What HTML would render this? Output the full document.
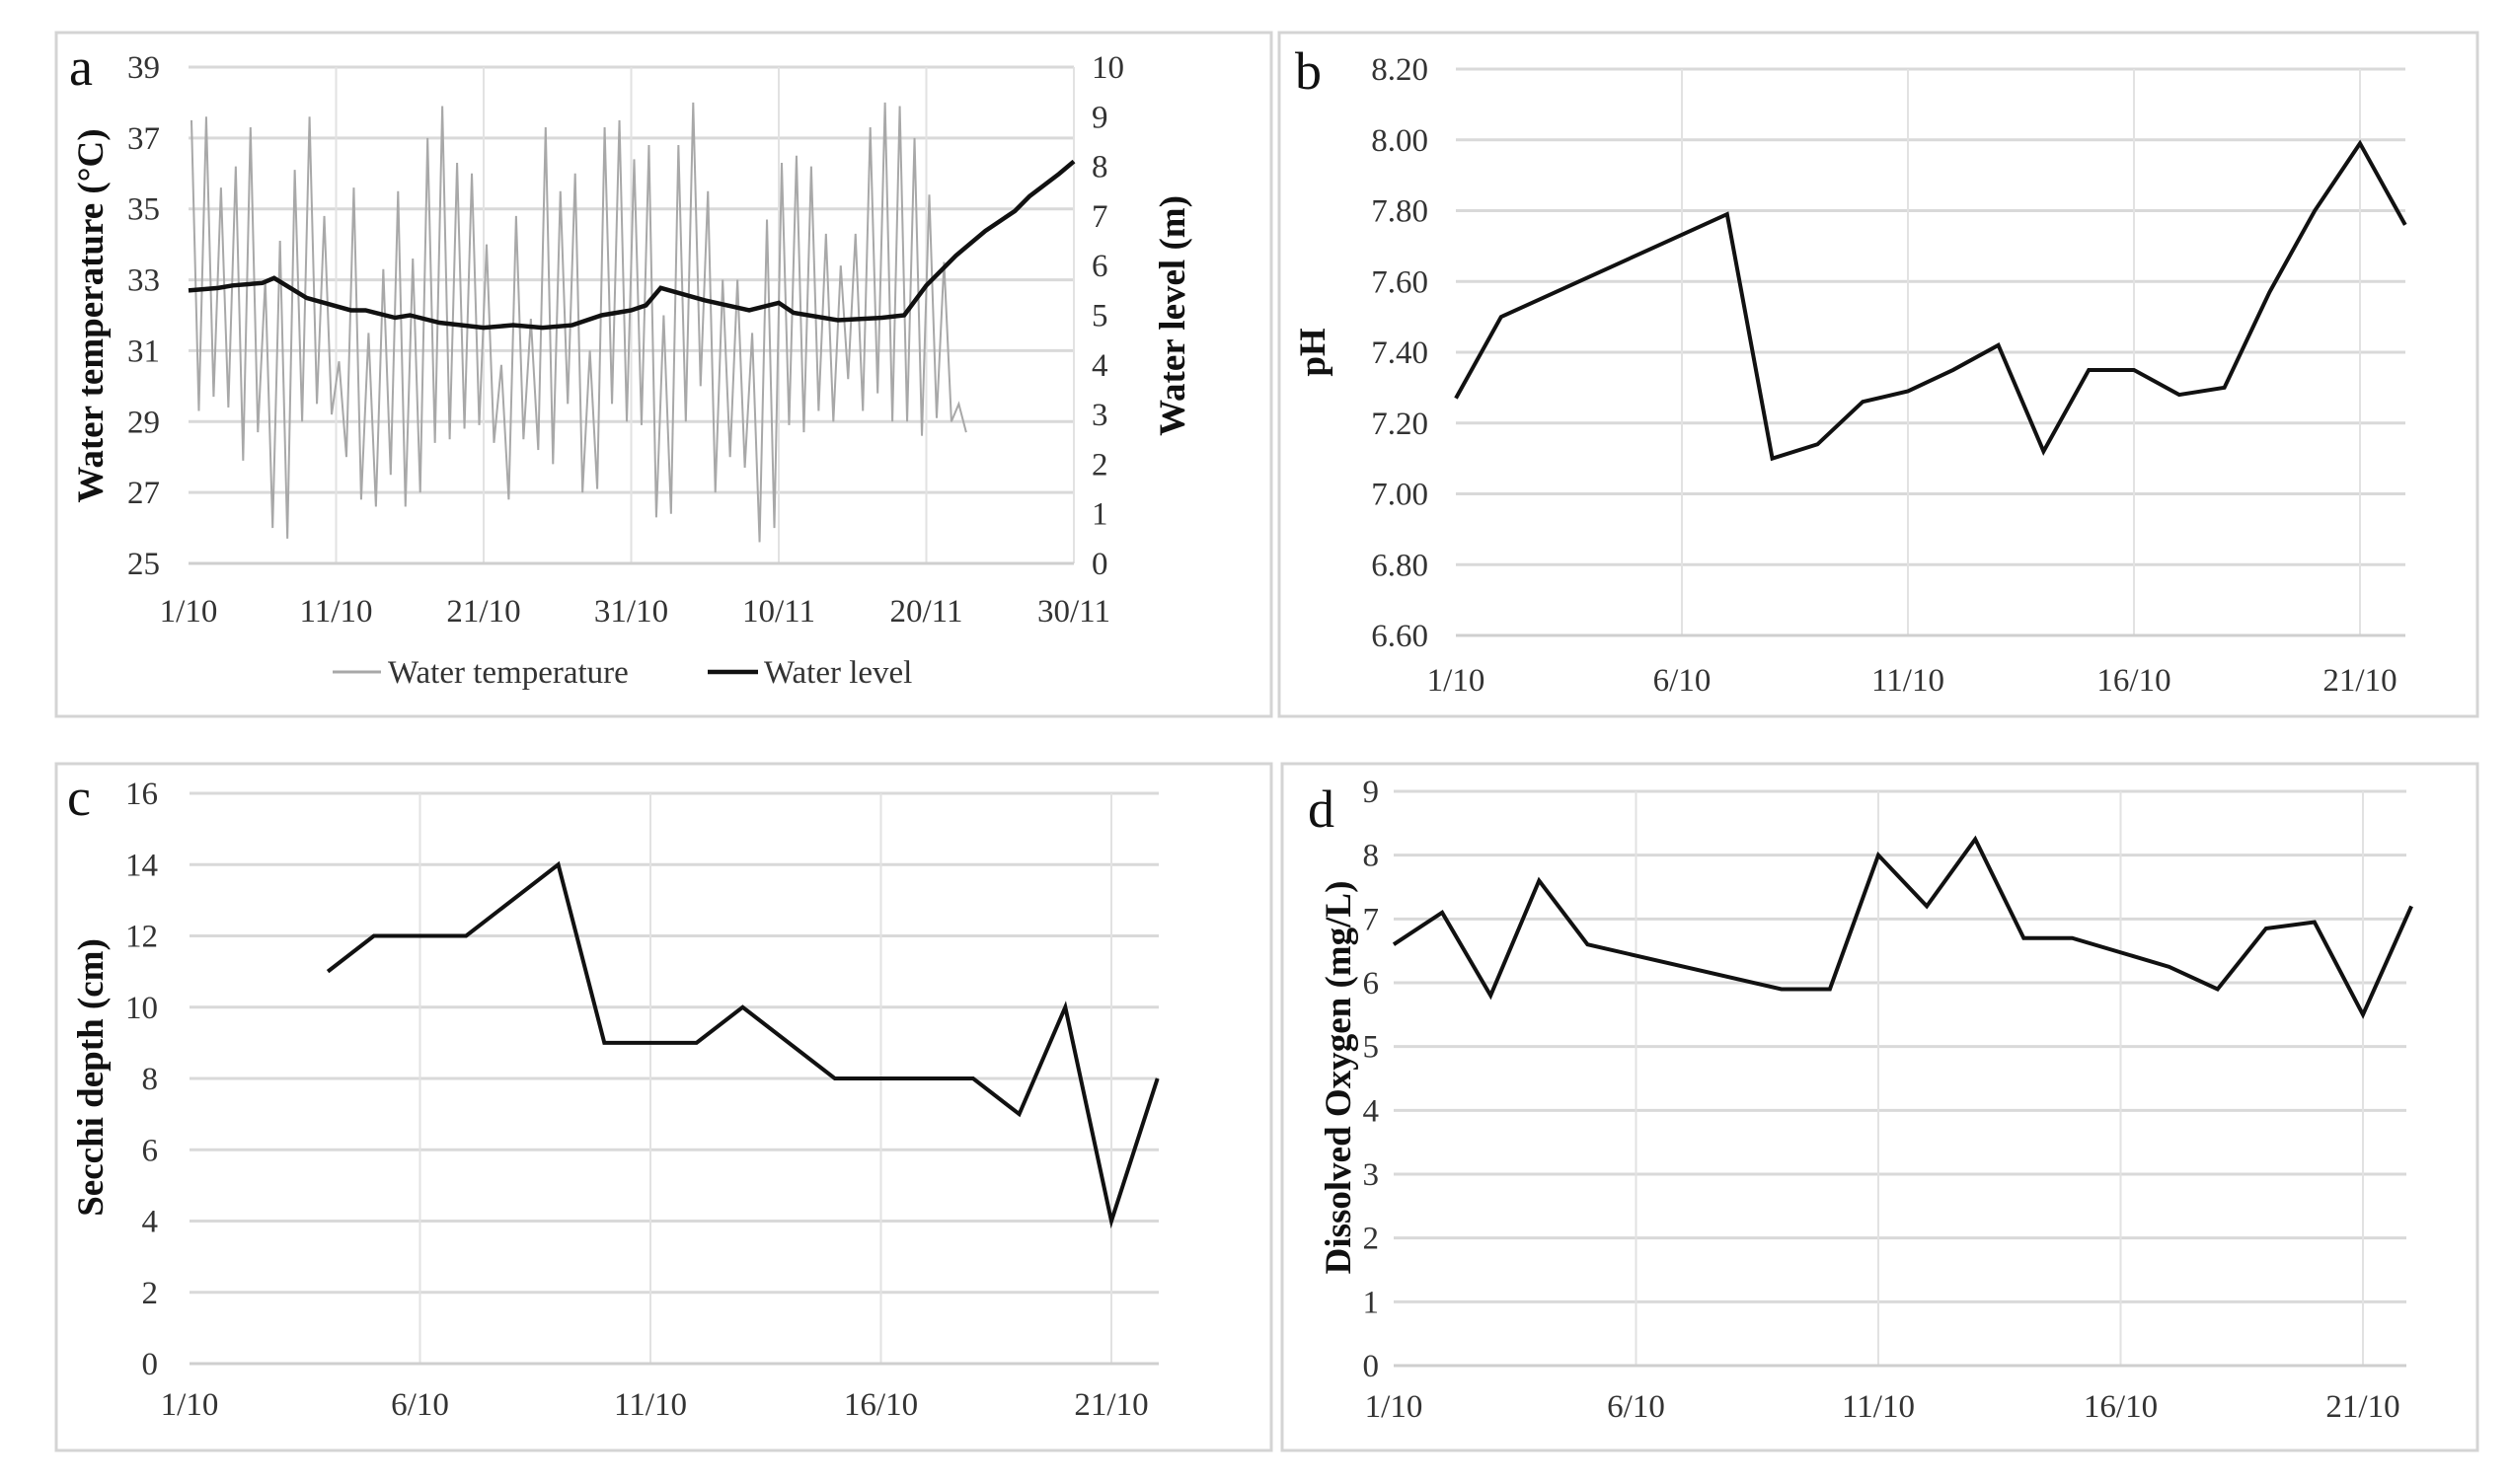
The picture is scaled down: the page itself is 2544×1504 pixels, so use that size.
<!DOCTYPE html>
<html><head><meta charset="utf-8"><style>
html,body{margin:0;padding:0;background:#fff;}
svg{display:block;font-family:"Liberation Serif",serif;}
</style></head><body>
<svg id="fig" width="2544" height="1504" viewBox="0 0 2544 1504" xmlns="http://www.w3.org/2000/svg">
<rect x="0" y="0" width="2544" height="1504" fill="#fff"/>
</svg>
<script>
// Panel a data
const aLevelDays = [0,2,3,5,5.8,8,11,12,14,15,17,20,22,24,26,28,30,31,32,35,38,40,41,44,47,48.5,50,52,54,56,57,59,60];
const aLevel = [5.5,5.55,5.6,5.65,5.75,5.35,5.1,5.1,4.95,5.0,4.85,4.75,4.8,4.75,4.8,5.0,5.1,5.2,5.55,5.3,5.1,5.25,5.05,4.9,4.95,5.0,5.6,6.2,6.7,7.1,7.4,7.85,8.1];
const aTempMax = [37.5,37.6,35.6,36.2,37.3,33,34.1,36.1,37.6,34.8,30.7,35.6,31.5,33.3,35.5,33.6,37,37.9,36.3,36,34,30.6,34.8,31.9,37.3,35.5,36,31,37.3,37.5,36.4,36.8,32,36.8,38,35.5,33,33,31.5,34.7,36.3,36.5,36.2,34.3,33.4,34.3,37.3,38,37.9,37,35.4,33.5,29.5];
const aTempMin = [29.3,29.7,29.4,27.9,28.7,26,25.7,29,29.5,29.2,28,26.8,26.6,27.5,26.6,27,28.4,28.5,28.8,28.9,28.4,26.8,28.5,28.2,27.8,29.5,27,27.1,29.5,29,28.9,26.3,26.4,29,30,27,28,27.7,25.6,26,28.9,28.7,29.3,29,30.2,29.3,29.8,29,29,28.6,29.1,29,28.7];
const aXTicks = ["1/10","11/10","21/10","31/10","10/11","20/11","30/11"];
const aLeftTicks = [25,27,29,31,33,35,37,39];
const aRightTicks = [0,1,2,3,4,5,6,7,8,9,10];
// Panel b
const bDays = [1,2,7,8,9,10,11,12,13,14,15,16,17,18,19,20,21,22];
const bPH = [7.27,7.50,7.79,7.10,7.14,7.26,7.29,7.35,7.42,7.12,7.35,7.35,7.28,7.30,7.57,7.80,7.99,7.76];
const bTicks = ["6.60","6.80","7.00","7.20","7.40","7.60","7.80","8.00","8.20"];
// Panel c
const cDays = [4,5,7,9,10,12,13,15,18,19,20,21,22];
const cSecchi = [11,12,12,14,9,9,10,8,8,7,10,4,8];
const cTicks = [0,2,4,6,8,10,12,14,16];
// Panel d
const dDays = [1,2,3,4,5,9,10,11,12,13,14,15,17,18,19,20,21,22];
const dDO = [6.6,7.1,5.8,7.6,6.6,5.9,5.9,8.0,7.2,8.25,6.7,6.7,6.25,5.9,6.85,6.95,5.5,7.2];
const dTicks = [0,1,2,3,4,5,6,7,8,9];
const dateTicks = ["1/10","6/10","11/10","16/10","21/10"];

const NS="http://www.w3.org/2000/svg";
const svg=document.getElementById('fig');
const TF=33;
function mk(tag,attrs,parent,text){const e=document.createElementNS(NS,tag);for(const k in attrs)e.setAttribute(k,attrs[k]);if(text!==undefined)e.textContent=text;(parent||svg).appendChild(e);return e;}
function lin(d0,d1,r0,r1){return v=>r0+(v-d0)/(d1-d0)*(r1-r0);}

function frame(x,y,w,h,name){const r=mk('rect',{x:x,y:y,width:w,height:h,fill:'none',stroke:'#d4d4d4','stroke-width':3});

}

function panel(opt){
  const g=mk('g',{});
  
  
  const xs=lin(opt.xd0,opt.xd1,opt.x0,opt.x1), ys=lin(opt.yd0,opt.yd1,opt.yb,opt.yt);
  opt.yTicks.forEach(t=>{const y=ys(parseFloat(t));
    const l=mk('line',{x1:opt.x0,x2:opt.xr,y1:y,y2:y,stroke:'#d9d9d9','stroke-width':3},g);
    
    
    const tx=mk('text',{x:opt.ylx,y:y+11,'text-anchor':'end','font-size':TF,fill:'#333'},g,t);
    
    
  });
  opt.xTicks.forEach((t,i)=>{const x=xs(opt.xd0+i*opt.xstep);
    if(i>0){const l=mk('line',{x1:x,x2:x,y1:opt.yt,y2:opt.yb,stroke:'#e2e2e2','stroke-width':2},g);
    
    }
    const tx=mk('text',{x:x,y:opt.xly,'text-anchor':'middle','font-size':TF,fill:'#333'},g,t);
    
    
  });
  const base=mk('line',{x1:opt.x0,x2:opt.xr,y1:opt.yb,y2:opt.yb,stroke:'#cfcfcf','stroke-width':3},g);
  
  
  const lt=mk('text',{x:opt.lx,y:opt.ly,'font-size':54,fill:'#111'},g,opt.letter);
  
  
  const yt=mk('text',{x:0,y:0,'font-size':37,'font-weight':'bold','text-anchor':'middle',fill:'#111',transform:`translate(${opt.tx},${opt.ty}) rotate(-90)`},g,opt.title);
  
  
  if(opt.series){
    const pts=opt.days.map((d,i)=>xs(d)+','+ys(opt.series[i])).join(' ');
    const pl=mk('polyline',{points:pts,fill:'none',stroke:'#111','stroke-width':4,'stroke-linejoin':'miter'},g);
    
    
  }
  return {xs,ys,g};
}

frame(57,33,1231,693,'panel-a-frame');
frame(1296,33,1214,693,'panel-b-frame');
frame(57,774,1231,696,'panel-c-frame');
frame(1299,774,1211,696,'panel-d-frame');

// Panel a
const pa=panel({name:'panel-a',x0:191,x1:1088,xr:1088,xd0:0,xd1:60,xstep:10,yt:68,yb:571,yd0:25,yd1:39,
  yTicks:aLeftTicks.map(String),xTicks:aXTicks,ylx:162,xly:630,lx:70,ly:86,letter:'a',
  tx:104,ty:320,title:'Water temperature (°C)'});
const ysR=lin(0,10,571,68);
aRightTicks.forEach(t=>{const tx=mk('text',{x:1106,y:ysR(t)+11,'font-size':TF,fill:'#333'},pa.g,String(t));
  
  });
const rt=mk('text',{x:0,y:0,'font-size':37,'font-weight':'bold','text-anchor':'middle',fill:'#111',transform:'translate(1200,320) rotate(-90)'},pa.g,'Water level (m)');


let tp=[];
aTempMax.forEach((v,i)=>{tp.push(pa.xs(i+0.2)+','+pa.ys(v));if(i<aTempMin.length)tp.push(pa.xs(i+0.7)+','+pa.ys(aTempMin[i]));});
const tl=mk('polyline',{points:tp.join(' '),fill:'none',stroke:'#a8a8a8','stroke-width':2},pa.g);


const wl=mk('polyline',{points:aLevelDays.map((d,i)=>pa.xs(d)+','+ysR(aLevel[i])).join(' '),fill:'none',stroke:'#111','stroke-width':4.5},pa.g);


const lg=mk('g',{},pa.g);


const l1=mk('line',{x1:337,x2:386,y1:681,y2:681,stroke:'#a8a8a8','stroke-width':3},lg);


const t1=mk('text',{x:393,y:692,'font-size':TF,fill:'#333'},lg,'Water temperature');


const l2=mk('line',{x1:717,x2:768,y1:681,y2:681,stroke:'#111','stroke-width':4.5},lg);


const t2=mk('text',{x:774,y:692,'font-size':TF,fill:'#333'},lg,'Water level');



panel({name:'panel-b',x0:1475,x1:1475+45.8*20,xr:2437,xd0:1,xd1:21,xstep:5,yt:70,yb:644,yd0:6.6,yd1:8.2,
  yTicks:bTicks,xTicks:dateTicks,ylx:1447,xly:700,lx:1312,ly:90,letter:'b',tx:1342,ty:357,title:'pH',
  days:bDays,series:bPH,seriesName:'ph-line'});
panel({name:'panel-c',x0:192,x1:192+46.7*20,xr:1174,xd0:1,xd1:21,xstep:5,yt:804,yb:1382,yd0:0,yd1:16,
  yTicks:cTicks.map(String),xTicks:dateTicks,ylx:160,xly:1434,lx:68,ly:826,letter:'c',tx:104,ty:1092,title:'Secchi depth (cm)',
  days:cDays,series:cSecchi,seriesName:'secchi-line'});
panel({name:'panel-d',x0:1412,x1:1412+49.1*20,xr:2438,xd0:1,xd1:21,xstep:5,yt:802,yb:1384,yd0:0,yd1:9,
  yTicks:dTicks.map(String),xTicks:dateTicks,ylx:1397,xly:1436,lx:1325,ly:838,letter:'d',tx:1368,ty:1092,title:'Dissolved Oxygen (mg/L)',
  days:dDays,series:dDO,seriesName:'dissolved-oxygen-line'});
</script>
</body></html>
